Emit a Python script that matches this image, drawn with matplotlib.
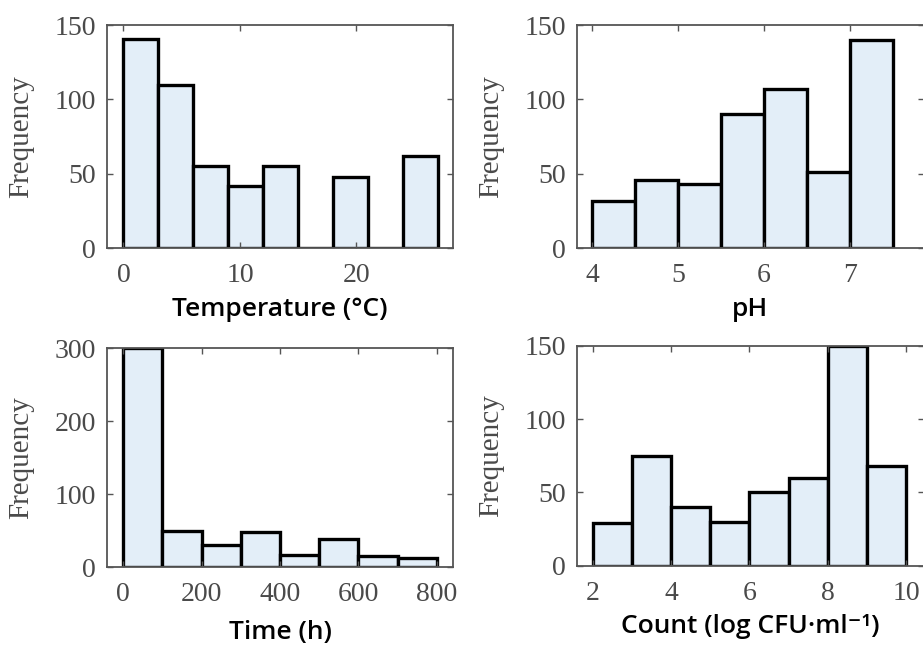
import matplotlib

matplotlib.use("Agg")
import matplotlib.pyplot as plt  # noqa: E402
import numpy as np  # noqa: E402

# histogram data: bin edges and counts per panel
temp_edges = [0, 3, 6, 9, 12, 15, 18, 21, 24, 27]
temp_counts = [141, 110, 55, 42, 55, 0, 48, 0, 62]

ph_edges = [4.0, 4.5, 5.0, 5.5, 6.0, 6.5, 7.0, 7.5]
ph_counts = [32, 46, 43, 90, 107, 51, 140]

time_edges = [0, 100, 200, 300, 400, 500, 600, 700, 800]
time_counts = [300, 50, 31, 48, 17, 38, 16, 12]

count_edges = [2, 3, 4, 5, 6, 7, 8, 9, 10]
count_counts = [29, 75, 40, 30, 50, 60, 150, 68]

FILL = "#e3eef8"
TICK_GREY = "#4a4a4a"
SERIF = "Liberation Serif"
LABEL_FONT = ["Open Sans", "DejaVu Sans"]


def draw_hist(ax, edges, counts, xlim, ylim, xticks, yticks, xlabel, xlabel_y):
    edges = np.asarray(edges, dtype=float)
    ax.bar(edges[:-1], counts, width=np.diff(edges), align="edge",
           color=FILL, edgecolor="black", linewidth=2.4)
    ax.set_xlim(*xlim)
    ax.set_ylim(*ylim)
    ax.set_xticks(xticks)
    ax.set_yticks(yticks)
    ax.tick_params(direction="in", length=4, width=1, top=True, right=True,
                   colors="#555555", labelcolor=TICK_GREY, labelsize=20)
    ax.tick_params(axis="x", pad=11)
    ax.tick_params(axis="y", pad=8)
    for lab in ax.get_xticklabels() + ax.get_yticklabels():
        lab.set_fontfamily(SERIF)
    for sp in ax.spines.values():
        sp.set_color("#555555")
        sp.set_linewidth(1.3)
    ax.set_ylabel("Frequency", fontfamily=SERIF, fontsize=21, color=TICK_GREY)
    ax.yaxis.set_label_coords(-0.21, 0.5)
    ax.set_xlabel(xlabel, fontfamily=LABEL_FONT, fontsize=19, fontweight="semibold",
                  color="black")
    ax.xaxis.set_label_coords(0.5, xlabel_y)


fig = plt.figure(figsize=(9.23, 6.46), dpi=100)

ax_t = fig.add_axes([0.116, 0.616, 0.375, 0.345])
draw_hist(ax_t, temp_edges, temp_counts, (-1.4, 28.3), (0, 150),
          [0, 10, 20], [0, 50, 100, 150], "Temperature (°C)", -0.22)

ax_p = fig.add_axes([0.625, 0.616, 0.376, 0.345])
draw_hist(ax_p, ph_edges, ph_counts, (3.82, 7.86), (0, 150),
          [4, 5, 6, 7], [0, 50, 100, 150], "pH", -0.22)

ax_h = fig.add_axes([0.116, 0.122, 0.375, 0.339])
draw_hist(ax_h, time_edges, time_counts, (-41, 842), (0, 300),
          [0, 200, 400, 600, 800], [0, 100, 200, 300], "Time (h)", -0.24)

ax_c = fig.add_axes([0.625, 0.124, 0.376, 0.341])
draw_hist(ax_c, count_edges, count_counts, (1.6, 10.45), (0, 150),
          [2, 4, 6, 8, 10], [0, 50, 100, 150], "Count (log CFU·ml⁻¹)", -0.22)

fig.savefig("out.png", dpi=100)
plt.close(fig)
